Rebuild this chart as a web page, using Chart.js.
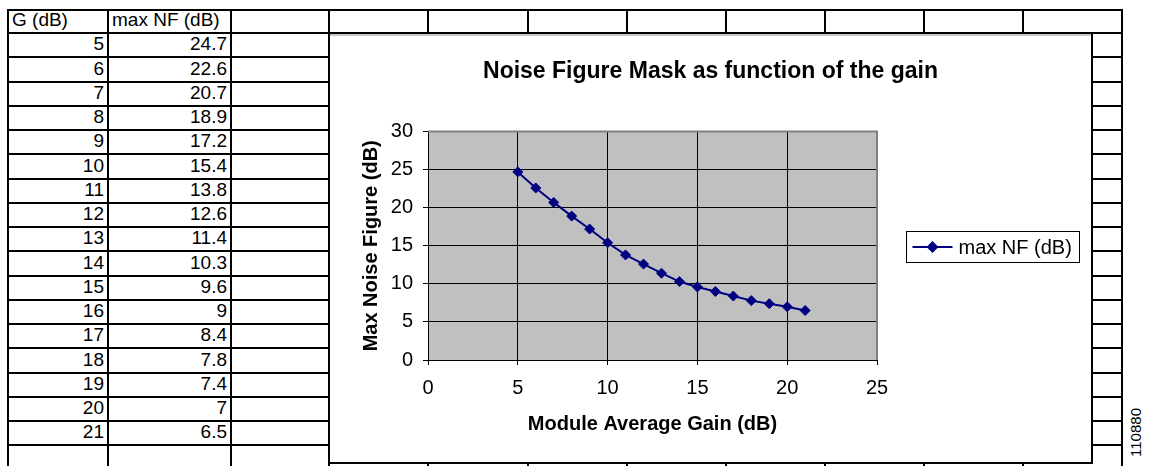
<!DOCTYPE html>
<html>
<head>
<meta charset="utf-8">
<script src="https://cdn.jsdelivr.net/npm/chart.js@4.4.1/dist/chart.umd.min.js"></script>
<style>
  body { margin: 0; background: #fff; font-family: Arial, "Liberation Sans", sans-serif; }
  #sheet { position: absolute; left: 0; top: 0; width: 1149px; height: 466px; overflow: hidden; }
  .hl { position: absolute; height: 2px; background: #000; }
  .vl { position: absolute; width: 2px; background: #000; }
  .cell { position: absolute; font-size: 19px; line-height: 20px; height: 20px; color: #000; white-space: nowrap; }
  #chartBox { position: absolute; left: 328px; top: 32px; width: 761px; height: 428px;
              border: 2px solid #000; background: #fff; box-shadow: inset 0 2px 0 #c8c8c8; }
  #chartWrap { position: relative; width: 761px; height: 428px; }
  #stamp { position: absolute; left: 1127px; top: 408px; font-size: 15px; color: #000;
           writing-mode: vertical-rl; transform: rotate(180deg); }
</style>
</head>
<body>
<div id="sheet"></div>
<div id="chartBox"><div id="chartWrap"><canvas id="nfChart"></canvas></div></div>
<div id="stamp">110880</div>
<script>
// data from the worksheet
const headers = ['G (dB)', 'max NF (dB)'];
const gains = [5, 6, 7, 8, 9, 10, 11, 12, 13, 14, 15, 16, 17, 18, 19, 20, 21];
const maxNF = [24.7, 22.6, 20.7, 18.9, 17.2, 15.4, 13.8, 12.6, 11.4, 10.3, 9.6, 9, 8.4, 7.8, 7.4, 7, 6.5];
const seriesLabel = 'max NF (dB)';
const chartTitle = 'Noise Figure Mask as function of the gain';
const xTitle = 'Module Average Gain (dB)';
const yTitle = 'Max Noise Figure (dB)';
const xRange = [0, 25, 5];
const yRange = [0, 30, 5];

// spreadsheet grid
const sheet = document.getElementById('sheet');
const colX = [8, 108, 231, 329, 428, 528, 627, 726, 825, 924, 1023, 1122];
const rowY = [10, 33];
for (let i = 1; i <= 18; i++) rowY.push(Math.round(33 + i * 24.25));

rowY.forEach(y => {
    const d = document.createElement('div');
    d.className = 'hl';
    d.style.left = (colX[0] - 1) + 'px';
    d.style.top = (y - 1) + 'px';
    d.style.width = (colX[colX.length - 1] - colX[0] + 2) + 'px';
    sheet.appendChild(d);
});
colX.forEach(x => {
    const d = document.createElement('div');
    d.className = 'vl';
    d.style.left = (x - 1) + 'px';
    d.style.top = (rowY[0] - 1) + 'px';
    d.style.height = '470px';
    sheet.appendChild(d);
});

function addCell(text, col, row, alignRight) {
    const d = document.createElement('div');
    d.className = 'cell';
    d.textContent = text;
    const left = colX[col], right = colX[col + 1];
    d.style.top = (rowY[row + 1] - 23) + 'px';
    if (alignRight) {
        d.style.left = left + 'px';
        d.style.width = (right - left - 4) + 'px';
        d.style.textAlign = 'right';
    } else {
        d.style.left = (left + 4) + 'px';
    }
    sheet.appendChild(d);
}

addCell(headers[0], 0, 0, false);
addCell(headers[1], 1, 0, false);
gains.forEach((g, i) => {
    addCell(String(g), 0, i + 1, true);
    addCell(String(maxNF[i]), 1, i + 1, true);
});

// chart
const plotFrame = {
    id: 'plotFrame',
    beforeDraw(chart) {
        const { ctx, chartArea: a } = chart;
        ctx.save();
        ctx.fillStyle = '#c0c0c0';
        ctx.fillRect(a.left, a.top, a.width, a.height);
        ctx.restore();
    },
    beforeDatasetsDraw(chart) {
        const { ctx, chartArea: a } = chart;
        ctx.save();
        ctx.strokeStyle = '#808080';
        ctx.lineWidth = 2;
        ctx.beginPath();
        ctx.moveTo(a.left, a.top);
        ctx.lineTo(a.right, a.top);
        ctx.lineTo(a.right, a.bottom);
        ctx.stroke();
        ctx.restore();
    }
};

const boxLegend = {
    id: 'boxLegend',
    afterDraw(chart) {
        const { ctx, chartArea: a } = chart;
        const ds = chart.data.datasets[0];
        ctx.save();
        ctx.font = '20px Arial';
        const tw = ctx.measureText(ds.label).width;
        const w = Math.round(6 + 40 + 6 + tw + 8), h = 31;
        const x = Math.round(a.right + 29) + 0.5;
        const y = Math.round((a.top + a.bottom) / 2 - h / 2) + 1.5;
        ctx.fillStyle = '#fff';
        ctx.fillRect(x, y, w, h);
        ctx.strokeStyle = '#000';
        ctx.lineWidth = 1;
        ctx.strokeRect(x, y, w, h);
        const cy = Math.round(y + h / 2);
        ctx.strokeStyle = ds.borderColor;
        ctx.lineWidth = 2;
        ctx.beginPath();
        ctx.moveTo(x + 6, cy);
        ctx.lineTo(x + 46, cy);
        ctx.stroke();
        ctx.fillStyle = ds.borderColor;
        ctx.beginPath();
        ctx.moveTo(x + 26, cy - 6);
        ctx.lineTo(x + 32, cy);
        ctx.lineTo(x + 26, cy + 6);
        ctx.lineTo(x + 20, cy);
        ctx.closePath();
        ctx.fill();
        ctx.fillStyle = '#000';
        ctx.textBaseline = 'middle';
        ctx.fillText(ds.label, x + 52, cy + 1);
        ctx.restore();
    }
};

const points = gains.map((g, i) => ({ x: g, y: maxNF[i] }));

new Chart(document.getElementById('nfChart'), {
    type: 'line',
    data: {
        datasets: [{
            label: seriesLabel,
            data: points,
            borderColor: '#000080',
            backgroundColor: '#000080',
            borderWidth: 2,
            pointStyle: 'rectRot',
            pointRadius: 5,
            pointBorderWidth: 1,
            pointBackgroundColor: '#000080',
            pointBorderColor: '#000080',
            tension: 0
        }]
    },
    options: {
        responsive: true,
        maintainAspectRatio: false,
        animation: false,
        devicePixelRatio: 1,
        layout: { padding: 0 },
        plugins: {
            legend: { display: false },
            tooltip: { enabled: false },
            title: {
                display: true,
                text: chartTitle,
                color: '#000',
                font: { family: 'Arial', size: 23, weight: 'bold' },
                padding: { top: 24, bottom: 46 }
            }
        },
        scales: {
            x: {
                type: 'linear',
                min: xRange[0],
                max: xRange[1],
                afterFit: (scale) => { scale.height = 102; },
                ticks: { stepSize: xRange[2], color: '#000', padding: 11,
                         font: { family: 'Arial', size: 20 } },
                grid: { color: '#000', lineWidth: 1, tickLength: 5, tickColor: '#000' },
                border: { color: '#000', width: 1 },
                title: { display: true, text: xTitle, color: '#000',
                         font: { family: 'Arial', size: 20, weight: 'bold' },
                         padding: { top: 0, bottom: 26 } }
            },
            y: {
                min: yRange[0],
                max: yRange[1],
                afterFit: (scale) => { scale.width = 98; },
                ticks: { stepSize: yRange[2], color: '#000', padding: 10,
                         font: { family: 'Arial', size: 20 } },
                grid: { color: '#000', lineWidth: 1, tickLength: 5, tickColor: '#000' },
                border: { color: '#000', width: 1 },
                title: { display: true, text: yTitle, color: '#000',
                         font: { family: 'Arial', size: 20, weight: 'bold' },
                         padding: { top: 29, bottom: 0 } }
            },
            // empty right-hand axis that only reserves room for the legend box
            legendSpace: {
                type: 'linear',
                position: 'right',
                min: yRange[0],
                max: yRange[1],
                afterFit: (scale) => { scale.width = 214; },
                ticks: { display: false },
                grid: { display: false },
                border: { display: false }
            }
        }
    },
    plugins: [plotFrame, boxLegend]
});
</script>
</body>
</html>
